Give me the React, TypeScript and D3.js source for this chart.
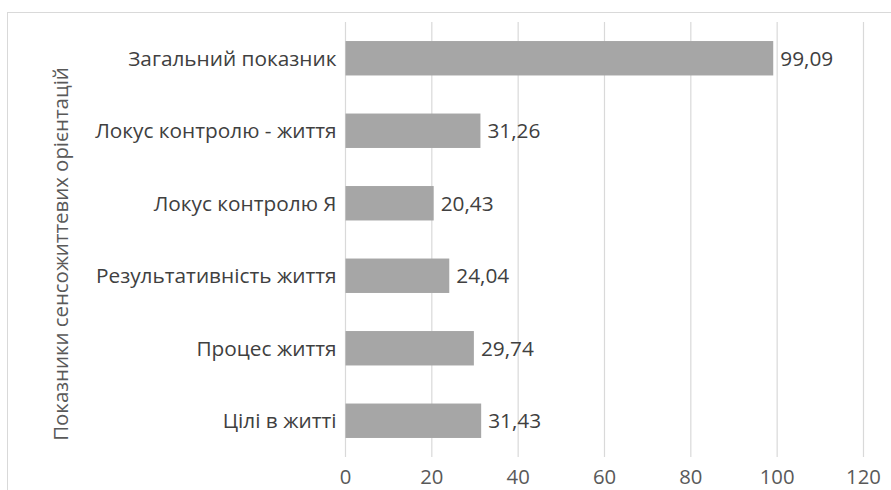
import React from "react";
import * as d3 from "d3";

const categories = [
  "Загальний показник",
  "Локус контролю - життя",
  "Локус контролю Я",
  "Результативність життя",
  "Процес життя",
  "Цілі в житті",
];
const values = [99.09, 31.26, 20.43, 24.04, 29.74, 31.43];
const xTicks = [0, 20, 40, 60, 80, 100, 120];
const axisTitle = "Показники сенсожиттевих орієнтацій";

const W = 891;
const H = 490;
const left = 345.5;
const right = 863.5;
const top = 22;
const bottom = 457;
const FONT = "'Open Sans', 'Noto Sans', sans-serif";

export default function App() {
  const x = d3.scaleLinear().domain([0, 120]).range([left, right]);
  const y = d3
    .scaleBand<string>()
    .domain(categories)
    .range([top, bottom])
    .paddingInner(0.525)
    .paddingOuter(0.2625);
  const fmt = (v: number) => v.toFixed(2).replace(".", ",");

  return (
    <svg
      width={W}
      height={H}
      style={{ position: "absolute", left: 0, top: 0, background: "#fff" }}
      fontFamily={FONT}
    >
      <rect x={7.5} y={12.5} width={1000} height={600} fill="#fff" stroke="#d9d9d9" strokeWidth={1} />
      {xTicks.map((t) => (
        <line key={t} x1={x(t)} x2={x(t)} y1={top} y2={bottom} stroke="#d9d9d9" strokeWidth={1.2} />
      ))}
      {categories.map((c, i) => (
        <g key={c}>
          <rect
            x={x(0)}
            y={y(c)!}
            width={x(values[i]) - x(0)}
            height={y.bandwidth()}
            fill="#a6a6a6"
          />
          <text
            x={x(0) - 9}
            y={y(c)! + y.bandwidth() / 2}
            dy="0.35em"
            textAnchor="end"
            fontSize={20.8}
            fill="#404040"
          >
            {c}
          </text>
          <text
            x={x(values[i]) + 7}
            y={y(c)! + y.bandwidth() / 2}
            dy="0.35em"
            fontSize={20.8}
            fill="#404040"
          >
            {fmt(values[i])}
          </text>
        </g>
      ))}
      {xTicks.map((t) => (
        <text key={t} x={x(t)} y={484} textAnchor="middle" fontSize={20.3} fill="#595959">
          {t}
        </text>
      ))}
      <text
        transform={`translate(68,254) rotate(-90)`}
        textAnchor="middle"
        fontSize={20.4}
        fill="#595959"
      >
        {axisTitle}
      </text>
    </svg>
  );
}
